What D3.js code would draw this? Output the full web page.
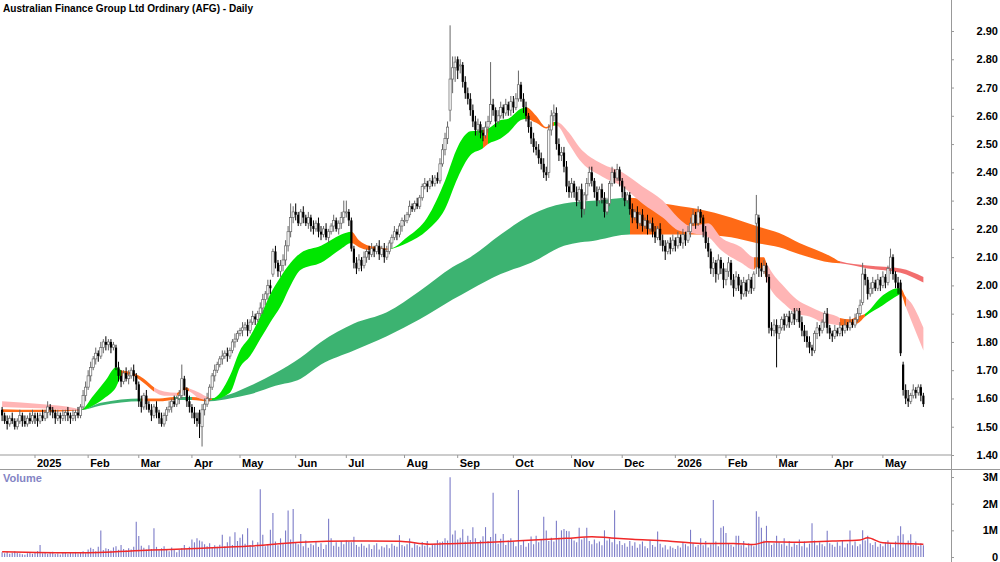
<!DOCTYPE html>
<html>
<head>
<meta charset="utf-8">
<script src="https://cdn.jsdelivr.net/npm/d3@7"></script>
<style>
  body { margin: 0; background: #fff; }
  svg { display: block; font-family: "Liberation Sans", Arial, sans-serif; }
</style>
</head>
<body>
<div class="chart"></div>
<script>
const width = 1000;
const height = 562;
const axisX = 951;

const title = "Australian Finance Group Ltd Ordinary (AFG) - Daily";

// ASX trading holidays inside the range
const holidays = ["2024-12-25", "2024-12-26", "2025-01-01", "2025-01-27", "2025-04-18", "2025-04-21",
  "2025-04-25", "2025-06-09", "2025-12-25", "2025-12-26", "2026-01-01", "2026-01-26", "2026-04-03", "2026-04-06"];

// daily prices in cents, one row per month (Dec 2024 .. May 2026)
const open = [
  156,154,152,151,153,152,150,152,154,152,151,153,152,
  154,153,152,154,153,155,157,156,155,153,154,153,154,155,154,153,154,155,154,157,161,
  164,168,171,174,176,175,178,180,179,180,178,178,171,168,166,169,167,168,170,168,
  165,159,157,161,158,156,154,157,155,153,151,154,156,157,159,158,160,161,167,163,159,
  157,155,153,155,150,156,158,160,164,168,170,172,174,175,176,175,177,180,181,
  183,184,185,186,184,187,189,188,190,192,195,197,200,204,212,208,205,207,209,214,219,224,
  226,225,222,226,224,222,224,221,220,222,219,218,220,217,219,221,223,220,222,224,
  226,226,223,213,208,206,209,207,210,212,211,213,212,214,211,213,210,212,215,217,219,218,221,
  223,223,225,228,227,229,228,231,235,236,235,237,236,238,237,243,248,252,262,273,277,
  280,278,278,272,268,266,262,258,255,257,254,253,256,258,264,262,258,260,263,261,264,262,
  265,263,266,271,266,263,260,256,252,249,248,245,243,240,240,255,260,261,250,246,247,242,235,
  233,236,233,230,234,227,232,236,240,237,233,230,234,231,226,229,236,240,238,241,
  237,233,230,232,227,224,226,222,225,221,223,220,222,219,217,220,216,214,212,215,213,
  216,214,217,215,218,216,219,222,225,222,226,224,219,215,212,206,208,204,209,206,
  202,205,208,202,199,203,200,197,201,198,202,199,222,224,206,205,207,203,185,184,
  186,183,185,188,186,189,187,190,188,191,187,184,182,180,178,177,183,185,184,187,190,185,
  183,182,184,183,185,184,186,185,187,186,188,190,194,204,202,197,199,201,199,202,
  200,203,201,206,210,204,201,201,172,163,160,159,161,163,162,164,161
];
const high = [
  157,155,154,154,155,153,153,156,155,154,154,155,156,
  155,155,155,156,156,159,158,157,156,156,155,156,156,157,155,156,156,157,158,163,166,
  170,173,175,178,177,180,181,182,181,181,180,179,173,170,170,171,170,171,172,169,
  166,161,162,163,159,158,158,159,156,155,155,157,159,160,161,161,163,172,168,164,161,
  158,157,155,156,158,160,162,165,169,172,173,175,177,177,178,178,181,183,184,
  185,187,187,188,188,191,190,191,194,197,198,202,202,213,214,209,209,211,216,221,229,228,
  229,226,227,228,225,226,225,223,223,224,221,221,222,220,222,225,224,223,226,230,
  230,227,224,214,210,211,210,212,213,214,215,214,215,216,214,215,214,216,218,221,220,222,224,
  225,226,230,229,230,231,232,236,238,237,238,239,239,240,245,250,254,258,292,281,281,
  281,280,279,274,270,268,264,260,259,258,256,258,260,279,266,263,262,265,264,266,265,267,
  267,268,276,272,268,265,261,258,254,251,250,247,245,242,257,262,264,263,252,249,249,244,237,
  238,237,235,235,236,233,238,242,242,238,235,235,236,233,231,237,242,241,243,242,
  238,235,233,233,229,227,228,226,227,224,225,223,224,221,221,222,218,216,216,217,218,
  217,219,218,220,219,221,224,227,226,228,227,225,221,217,213,210,209,211,210,208,
  206,210,209,204,205,204,202,203,202,204,203,205,232,225,208,209,208,204,187,188,
  188,186,189,190,190,191,191,192,192,192,189,186,184,182,179,184,187,186,188,191,192,186,
  184,186,185,187,186,188,187,189,188,190,192,195,208,206,203,201,203,202,204,203,
  205,204,207,213,211,205,203,202,173,165,163,162,165,164,165,165,162
];
const low = [
  152,151,149,150,151,149,149,151,150,150,150,151,151,
  151,150,151,152,152,153,154,153,151,152,151,152,152,152,151,152,152,153,153,156,159,
  163,166,170,172,173,174,176,177,177,176,177,170,166,164,165,166,165,167,166,163,
  157,155,156,156,155,152,153,153,151,150,150,152,155,155,157,157,158,160,161,157,155,
  153,151,150,146,143,154,157,159,163,166,169,171,172,174,173,174,176,178,180,
  182,182,184,182,183,186,186,187,189,190,193,195,197,203,206,203,203,205,207,212,217,222,
  223,221,221,222,221,220,219,218,219,217,216,217,216,215,218,219,219,218,220,222,
  224,221,212,206,204,205,205,206,208,209,210,210,211,209,210,208,209,211,213,216,216,217,219,
  221,222,224,226,226,227,227,230,234,233,234,235,235,236,236,242,246,250,258,268,272,
  273,275,270,266,264,260,256,253,253,252,251,252,254,257,260,256,257,259,259,260,260,260,
  261,262,265,265,261,258,254,250,247,246,243,241,238,237,238,253,258,248,244,244,240,233,231,
  231,231,228,229,224,225,230,235,235,231,228,229,229,224,225,228,235,236,237,235,
  231,228,229,225,222,223,220,221,219,220,218,219,217,215,216,214,212,209,211,211,212,
  212,213,214,213,214,215,217,221,220,221,222,217,213,210,204,203,201,202,204,199,
  200,203,200,196,198,198,195,196,196,197,197,198,204,203,203,204,201,183,182,182,
  171,181,184,184,185,185,186,186,187,185,182,180,178,176,175,176,181,182,183,185,183,181,
  180,181,182,182,182,183,184,184,185,185,187,189,193,200,195,196,197,198,198,198,
  199,199,200,204,202,199,197,175,161,158,157,158,160,160,161,159,157
];
const close = [
  154,152,151,153,152,150,152,154,152,151,153,152,154,
  153,152,154,153,155,157,156,155,153,154,153,154,155,154,153,154,155,154,157,161,164,
  168,171,174,176,175,178,180,179,180,178,179,171,168,166,169,167,168,170,168,165,
  159,157,161,158,156,154,157,155,153,151,154,156,157,159,158,160,161,167,163,159,157,
  155,153,152,151,156,158,160,164,168,170,172,174,175,176,175,177,180,181,183,
  184,185,186,184,187,189,188,190,192,195,197,200,199,212,208,205,207,209,214,219,224,226,
  225,222,226,224,222,224,221,220,222,219,218,220,217,219,221,223,220,222,224,226,
  226,223,213,208,206,209,207,210,212,211,213,212,214,211,213,210,212,215,217,219,218,221,223,
  223,225,228,227,229,228,231,235,236,235,237,236,238,237,243,248,252,256,273,277,279,
  276,278,272,268,266,262,258,255,257,254,253,256,258,264,262,258,260,263,261,264,262,265,
  263,266,271,266,263,260,256,252,249,248,245,243,240,239,255,260,261,250,246,247,242,235,233,
  236,233,230,234,227,232,236,240,237,233,230,234,231,226,229,236,240,238,241,237,
  233,230,232,227,224,226,222,225,221,223,220,222,219,217,220,216,214,212,215,213,216,
  214,217,215,218,216,219,222,225,222,226,224,219,215,212,206,208,204,209,206,202,
  205,208,202,199,203,200,197,201,198,202,199,204,225,206,205,207,203,185,184,186,
  183,185,188,186,189,187,190,188,191,187,184,182,180,178,177,183,185,184,187,190,185,183,
  182,184,183,185,184,186,185,187,186,188,190,193,204,202,197,199,201,199,202,200,
  203,201,206,210,204,201,199,176,163,160,159,161,163,162,164,161,158
];
// volume in units of 10,000 shares
const volume = [
  18,14,20,12,16,22,15,13,10,8,14,17,12,
  15,22,45,14,18,12,16,20,11,13,9,15,18,12,16,14,19,13,17,22,14,
  28,35,30,22,38,99,26,33,30,24,36,40,27,45,30,25,33,28,38,132,
  79,42,35,28,44,30,108,38,25,33,40,28,22,36,30,18,26,34,45,29,38,
  66,55,70,62,58,48,40,52,35,44,38,46,83,40,55,77,45,93,60,
  72,85,50,108,45,62,38,55,254,83,40,48,102,165,58,44,70,52,99,174,66,180,
  55,48,86,40,62,35,50,44,58,38,52,30,46,143,70,42,55,38,60,48,
  62,58,55,76,45,38,50,42,35,48,30,44,52,28,40,36,46,33,50,42,38,82,45,
  40,48,69,35,52,44,38,56,42,60,36,48,50,63,55,58,70,62,299,84,99,
  66,72,104,58,80,64,112,70,55,62,78,112,60,75,241,87,50,68,86,45,62,70,
  58,40,251,45,62,38,52,77,48,80,55,66,151,99,60,72,58,136,72,100,105,98,97,
  70,62,55,110,66,72,110,60,48,66,52,58,44,100,62,70,55,175,48,60,
  45,52,38,60,42,55,35,48,58,40,33,62,45,38,96,50,36,44,28,40,35,
  30,42,36,55,48,40,102,52,38,45,70,44,60,36,48,214,58,40,110,115,
  90,52,46,38,80,80,44,60,36,52,48,40,172,151,110,62,117,58,45,52,
  80,55,48,70,42,60,38,52,45,66,40,58,36,50,127,62,44,55,48,40,98,52,
  46,38,55,42,60,36,50,99,44,58,40,48,100,62,80,52,45,56,38,50,
  40,55,62,48,36,58,80,115,85,50,62,85,45,58,40,52,44
];
// volume average line: [bar, 10,000s]
const volumeAvg = [[0,20],[30,16],[59,26],[79,33],[98,41],[118,55],[138,60],[157,59],[169,48],[177,50],
  [197,57],[210,64],[223,70],[233,76],[240,72],[249,67],[263,60],[276,51],[289,51],[297,47],[302,57],
  [315,55],[328,60],[339,64],[342,72],[348,53],[364,48]];

// moving average ribbons: [bar, upper, lower]
const shortRibbon = [[0,1.59,1.57],[15,1.58,1.565],[29,1.565,1.558],[31,1.56,1.558],[36,1.61,1.575],
  [41,1.665,1.605],[45,1.71,1.64],[47,1.70,1.675],[50,1.695,1.685],[56,1.67,1.655],[60,1.64,1.625],
  [64,1.625,1.61],[69,1.62,1.61],[72,1.64,1.63],[74,1.635,1.625],[78,1.62,1.60],[81,1.605,1.595],
  [83,1.60,1.595],[90,1.68,1.62],[94,1.77,1.71],[98,1.82,1.75],[102,1.89,1.81],[106,1.97,1.87],
  [110,2.03,1.925],[114,2.08,2.00],[118,2.115,2.055],[126,2.14,2.08],[134,2.18,2.13],[138,2.19,2.15],
  [141,2.16,2.135],[145,2.14,2.125],[149,2.135,2.125],[153,2.13,2.128],[160,2.17,2.15],[168,2.24,2.195],
  [175,2.37,2.27],[180,2.49,2.38],[185,2.545,2.46],[190,2.55,2.485],[192,2.555,2.50],[197,2.585,2.52],
  [200,2.59,2.54],[205,2.625,2.585],[207,2.63,2.59],[211,2.60,2.575],[215,2.56,2.555],[218,2.578,2.565],
  [219,2.578,2.566],[224,2.54,2.50],[228,2.49,2.445],[237,2.43,2.385],[245,2.40,2.35],[253,2.35,2.29],
  [261,2.30,2.24],[267,2.24,2.195],[272,2.21,2.185],[279,2.22,2.17],[284,2.17,2.125],[292,2.135,2.08],
  [297,2.10,2.055],[298,2.10,2.065],[301,2.10,2.05],[302,2.08,2.02],[309,1.995,1.935],[314,1.95,1.90],
  [319,1.925,1.89],[324,1.905,1.87],[330,1.89,1.86],[331,1.885,1.858],[335,1.88,1.86],[338,1.89,1.865],
  [341,1.90,1.89],[348,1.965,1.93],[354,1.99,1.965],[355,1.99,1.97],[357,1.96,1.925],[359,1.94,1.88],
  [364,1.85,1.77]];
const shortStates = [[0,"down"],[31,"up"],[47,"turn"],[60,"down"],[69,"turn"],[74,"down"],[81,"turn"],
  [83,"up"],[138,"turn"],[153,"up"],[190,"turn"],[192,"up"],[207,"turn"],[218,"up"],[219,"down"],
  [297,"turn"],[302,"down"],[331,"turn"],[341,"up"],[355,"turn"],[357,"down"]];

const longRibbon = [[0,1.562,1.552],[15,1.56,1.552],[31,1.56,1.558],[39,1.585,1.575],[55,1.60,1.59],
  [62,1.60,1.59],[68,1.605,1.595],[75,1.605,1.595],[82,1.60,1.59],[90,1.615,1.60],[98,1.645,1.615],
  [108,1.69,1.645],[118,1.745,1.67],[126,1.80,1.72],[139,1.865,1.77],[152,1.905,1.82],[165,1.98,1.88],
  [178,2.065,1.95],[185,2.10,1.985],[197,2.18,2.04],[209,2.25,2.08],[222,2.29,2.14],[235,2.30,2.16],
  [248,2.31,2.18],[261,2.29,2.18],[275,2.27,2.18],[288,2.24,2.17],[298,2.21,2.15],[307,2.185,2.135],
  [315,2.15,2.11],[328,2.10,2.08],[331,2.085,2.078],[342,2.07,2.06],[355,2.06,2.045],[364,2.03,2.01]];
const longStates = [[0,"turn"],[31,"up"],[55,"turn"],[68,"up"],[75,"turn"],[82,"up"],[248,"turn"],[331,"down"]];

const priceTicks = [1.40,1.50,1.60,1.70,1.80,1.90,2.00,2.10,2.20,2.30,2.40,2.50,2.60,2.70,2.80,2.90];
const volumeTicks = [0, 1e6, 2e6, 3e6];
const volumeTickLabels = ["0", "1M", "2M", "3M"];

const shortColors = { up: "#00e600", turn: "#ff6a16", down: "#ffb5b5" };
const longColors = { up: "#3cb371", turn: "#ff6a16", down: "#f26e6e" };

const fmtDay = d3.timeFormat("%Y-%m-%d");
let dates = d3.timeDay.range(new Date(2024, 11, 11), new Date(2026, 4, 26))
  .filter((d) => d.getDay() > 0 && d.getDay() < 6 && !holidays.includes(fmtDay(d)));
const n = Math.min(dates.length, close.length);
dates = dates.slice(0, n);

const x = d3.scaleLinear().domain([0, 364]).range([2.1, 2.1 + 2.531 * 364]);
const y = d3.scaleLinear().domain([1.40, 2.90]).range([455, 31]);
const vy = d3.scaleLinear().domain([0, 3e6]).range([557, 477]);

const svg = d3.select(".chart").append("svg").attr("width", width).attr("height", height);
const defs = svg.append("defs");
defs.append("clipPath").attr("id", "plotClip").append("rect")
  .attr("x", 0).attr("y", 0).attr("width", axisX).attr("height", 455);

svg.append("rect").attr("width", width).attr("height", height).attr("fill", "#fff");

const plot = svg.append("g").attr("clip-path", "url(#plotClip)");

function drawRibbon(pts, states, colors, id) {
  const area = d3.area()
    .x((d) => x(d[0]))
    .y0((d) => y(d[2]))
    .y1((d) => y(d[1]))
    .curve(d3.curveMonotoneX);
  const grad = defs.append("linearGradient").attr("id", id)
    .attr("gradientUnits", "userSpaceOnUse")
    .attr("x1", 0).attr("x2", axisX).attr("y1", 0).attr("y2", 0);
  states.forEach((s, k) => {
    const a = x(s[0]) / axisX;
    const b = k < states.length - 1 ? x(states[k + 1][0]) / axisX : 1;
    grad.append("stop").attr("offset", a).attr("stop-color", colors[s[1]]);
    grad.append("stop").attr("offset", b).attr("stop-color", colors[s[1]]);
  });
  plot.append("path").datum(pts).attr("d", area).attr("fill", `url(#${id})`);
}

drawRibbon(longRibbon, longStates, longColors, "longGrad");
drawRibbon(shortRibbon, shortStates, shortColors, "shortGrad");

// candles
const bars = d3.range(n).map((i) => ({
  i, o: open[i] / 100, h: high[i] / 100, l: low[i] / 100, c: close[i] / 100
}));
const up = (d) => d.c >= d.o;

plot.append("g").selectAll("line").data(bars).enter().append("line")
  .attr("x1", (d) => x(d.i)).attr("x2", (d) => x(d.i))
  .attr("y1", (d) => y(d.h)).attr("y2", (d) => y(d.l))
  .attr("stroke", (d) => (up(d) ? "#666" : "#000"))
  .attr("stroke-width", 1);

plot.append("g").selectAll("rect").data(bars).enter().append("rect")
  .attr("x", (d) => x(d.i) - 1.1)
  .attr("width", 2.2)
  .attr("y", (d) => y(Math.max(d.o, d.c)))
  .attr("height", (d) => Math.max(1, Math.abs(y(d.o) - y(d.c))))
  .attr("fill", (d) => (up(d) ? "#fff" : "#000"))
  .attr("stroke", (d) => (up(d) ? "#666" : "none"))
  .attr("stroke-width", 0.7);

// volume
svg.append("g").selectAll("line").data(d3.range(n)).enter().append("line")
  .attr("x1", (i) => x(i)).attr("x2", (i) => x(i))
  .attr("y1", vy(0)).attr("y2", (i) => vy(volume[i] * 1e4))
  .attr("stroke", "#7c7cc8")
  .attr("stroke-width", 1.1);

const avgLine = d3.line().x((d) => x(d[0])).y((d) => vy(d[1] * 1e4)).curve(d3.curveMonotoneX);
svg.append("path").datum(volumeAvg).attr("d", avgLine)
  .attr("fill", "none").attr("stroke", "#f02828").attr("stroke-width", 1.5);

// frame lines
svg.append("line").attr("x1", 0).attr("x2", axisX).attr("y1", 455).attr("y2", 455)
  .attr("stroke", "#999");
svg.append("line").attr("x1", 0).attr("x2", width).attr("y1", 469.5).attr("y2", 469.5)
  .attr("stroke", "#999");
svg.append("line").attr("x1", axisX + 0.5).attr("x2", axisX + 0.5).attr("y1", 0).attr("y2", height)
  .attr("stroke", "#999");

// date axis
const monthStarts = d3.range(1, n).filter((i) => dates[i].getMonth() !== dates[i - 1].getMonth());
const fmtMonth = d3.timeFormat("%b");
const dateAxis = svg.append("g");
dateAxis.selectAll("line").data(monthStarts).enter().append("line")
  .attr("x1", (i) => x(i)).attr("x2", (i) => x(i))
  .attr("y1", 455).attr("y2", 458)
  .attr("stroke", "#999");
dateAxis.selectAll("text").data(monthStarts).enter().append("text")
  .attr("x", (i) => x(i) + 2)
  .attr("y", 467)
  .attr("font-size", 11)
  .attr("font-weight", "bold")
  .attr("fill", "#000")
  .text((i) => (dates[i].getMonth() === 0 ? dates[i].getFullYear() : fmtMonth(dates[i])));

// price axis
const yAxis = d3.axisRight(y).tickValues(priceTicks).tickSize(3).tickFormat(d3.format(".2f"));
const gy = svg.append("g").attr("transform", `translate(${axisX}, 0)`).call(yAxis);
gy.select(".domain").remove();
gy.selectAll(".tick line").attr("stroke", "#999");
gy.selectAll(".tick text").attr("x", 47).attr("text-anchor", "end")
  .attr("font-size", 11).attr("font-weight", "bold").attr("font-family", null).attr("fill", "#000");

// volume axis
const vAxis = d3.axisRight(vy).tickValues(volumeTicks).tickSize(3)
  .tickFormat((d, k) => volumeTickLabels[k]);
const gv = svg.append("g").attr("transform", `translate(${axisX}, 0)`).call(vAxis);
gv.select(".domain").remove();
gv.selectAll(".tick line").attr("stroke", "#999");
gv.selectAll(".tick text").attr("x", 47).attr("text-anchor", "end")
  .attr("font-size", 11).attr("font-weight", "bold").attr("font-family", null).attr("fill", "#000");

// titles
svg.append("text").attr("x", 3).attr("y", 12)
  .attr("font-size", 11.5).attr("font-weight", "bold").attr("fill", "#000")
  .attr("textLength", 250).attr("lengthAdjust", "spacingAndGlyphs")
  .text(title);
svg.append("text").attr("x", 3).attr("y", 482)
  .attr("font-size", 11).attr("font-weight", "bold").attr("fill", "#8484c4")
  .text("Volume");
</script>
</body>
</html>
